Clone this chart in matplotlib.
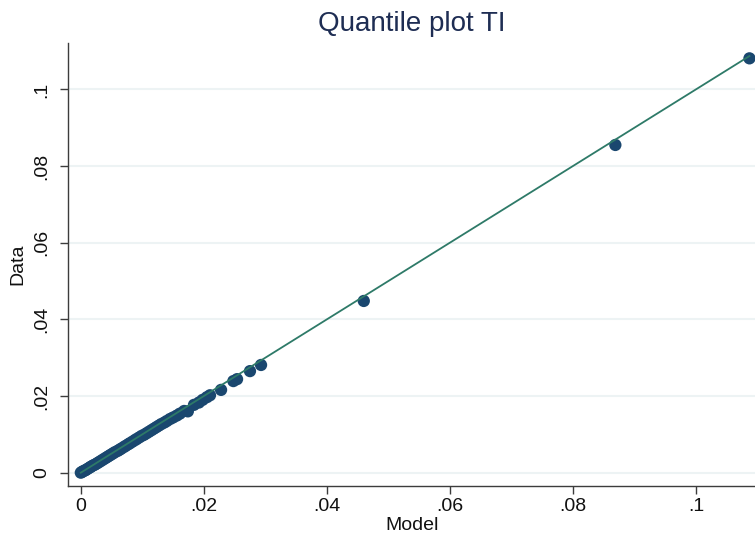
import matplotlib
matplotlib.use("Agg")
import matplotlib.pyplot as plt
import numpy as np

plt.rcParams['font.family'] = ['Liberation Sans', 'DejaVu Sans']

# quantiles (model vs data)
model_q = [0.0000, 0.0002, 0.0004, 0.0007, 0.0009, 0.0012, 0.0015, 0.0017, 0.0020,
           0.0023, 0.0026, 0.0029, 0.0032, 0.0035, 0.0038, 0.0041, 0.0044, 0.0047,
           0.0050, 0.0053, 0.0056, 0.0060, 0.0063, 0.0066, 0.0070, 0.0073, 0.0077,
           0.0080, 0.0084, 0.0088, 0.0091, 0.0095, 0.0099, 0.0103, 0.0107, 0.0111,
           0.0115, 0.0119, 0.0123, 0.0127, 0.0131, 0.0136, 0.0140, 0.0145, 0.0150,
           0.0156, 0.0161, 0.0168, 0.0174, 0.0184, 0.0192, 0.0198, 0.0205, 0.0210,
           0.0228, 0.0248, 0.0254, 0.0275, 0.0293, 0.0460, 0.0869, 0.1087]
data_q = [0.0000, 0.0002, 0.0004, 0.0006, 0.0008, 0.0011, 0.0014, 0.0016, 0.0019,
          0.0021, 0.0024, 0.0027, 0.0030, 0.0033, 0.0036, 0.0039, 0.0042, 0.0045,
          0.0048, 0.0051, 0.0054, 0.0057, 0.0060, 0.0063, 0.0067, 0.0070, 0.0074,
          0.0077, 0.0081, 0.0085, 0.0088, 0.0092, 0.0096, 0.0099, 0.0103, 0.0107,
          0.0111, 0.0115, 0.0119, 0.0123, 0.0127, 0.0131, 0.0135, 0.0140, 0.0144,
          0.0149, 0.0154, 0.0161, 0.0160, 0.0177, 0.0183, 0.0190, 0.0197, 0.0202,
          0.0216, 0.0239, 0.0244, 0.0265, 0.0281, 0.0448, 0.0855, 0.1081]

xticks = [0, 0.02, 0.04, 0.06, 0.08, 0.1]
yticks = [0, 0.02, 0.04, 0.06, 0.08, 0.1]
tick_labels = ['0', '.02', '.04', '.06', '.08', '.1']

fig = plt.figure(figsize=(7.55, 5.41), dpi=100)
ax = fig.add_axes([0.0905, 0.1017, 0.9095, 0.8188])

ax.grid(axis='y', color='#edf3f4', linewidth=1.5, zorder=0)
ax.set_axisbelow(True)

ax.scatter(model_q, data_q, s=78, color='#1a476f', edgecolors='none', zorder=3, clip_on=False)
lo, hi = min(model_q), max(model_q)
ax.plot([lo, hi], [lo, hi], color='#2e7a68', linewidth=1.3, zorder=4)

ax.set_xlim(-0.00203, 0.1096)
ax.set_ylim(-0.00347, 0.1121)
ax.set_xticks(xticks)
ax.set_xticklabels(tick_labels)
ax.set_yticks(yticks)
ax.set_yticklabels(tick_labels, rotation=90, va='center')

for side in ['top', 'right']:
    ax.spines[side].set_visible(False)
for side in ['left', 'bottom']:
    ax.spines[side].set_color('#3c3c3c')
    ax.spines[side].set_linewidth(1.0)

ax.tick_params(axis='both', length=5.8, width=1.0, color='#3c3c3c', labelsize=14,
               labelcolor='#111111')
ax.tick_params(axis='x', pad=3)
ax.tick_params(axis='y', pad=7)

ax.set_xlabel('Model', fontsize=14, labelpad=1, color='#111111')
ax.set_ylabel('Data', fontsize=14, labelpad=5, color='#111111')
ax.set_title('Quantile plot TI', fontsize=20, color='#1e2d53', pad=9)

fig.savefig('out.png', dpi=100)
